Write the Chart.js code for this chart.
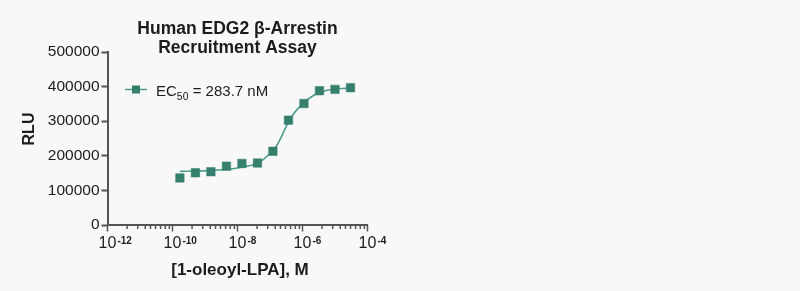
<!DOCTYPE html>
<html>
<head>
<meta charset="utf-8">
<script src="https://cdn.jsdelivr.net/npm/chart.js@4"></script>
<style>
  html, body { margin: 0; padding: 0; background: #f8f8f8; }
  #wrap { width: 800px; height: 291px; }
</style>
</head>
<body>
<div id="wrap"><canvas id="myChart"></canvas></div>
<script>
"use strict"

// measured points (M, RLU)
const concentrations = [1.69e-10, 5.08e-10, 1.52e-9, 4.57e-9, 1.37e-8, 4.12e-8, 1.23e-7, 3.7e-7, 1.11e-6, 3.33e-6, 1e-5, 3e-5];
const rluValues = [136000, 151000, 154000, 170000, 178000, 179000, 213000, 303000, 351000, 388000, 392000, 397000];

// fitted curve
const fitConcentrations = [1.7e-10, 5e-10, 1.6e-9, 5e-9, 1.26e-8, 2.5e-8, 4e-8, 6.3e-8, 1e-7, 1.26e-7, 2e-7, 3.16e-7, 5e-7, 7.9e-7, 1.26e-6, 2e-6, 3.16e-6, 6.3e-6, 1.26e-5, 3e-5];
const fitValues = [155000, 156000, 158000, 161000, 166000, 172000, 178000, 190000, 207000, 215000, 245000, 285000, 318000, 340000, 358000, 372000, 382000, 390000, 394000, 396000];

const yTicks = [0, 100000, 200000, 300000, 400000, 500000];
const xLabelDecades = [-12, -10, -8, -6, -4];
// minor ticks between labelled decades, as multiples of the lower one
const minorTickFactors = [4, 8.5, 14.5, 21, 30, 43, 60, 80];

const titleLines = ["Human EDG2 \u03b2-Arrestin", "Recruitment Assay"];
const xTitle = "[1-oleoyl-LPA], M";
const yTitle = "RLU";
const legendMain = "EC";
const legendSub = "50";
const legendRest = " = 283.7 nM";

const FONT = '"Liberation Sans", Arial, sans-serif';
const TEXT = "#1c1c1c";
const AXIS = "#555555";
const MARK = "#347f6d";
const LINE = "#4f9c8a";

document.addEventListener("DOMContentLoaded", init);

const textPlugin = {
    id: "textPlugin",
    beforeDraw(chart) {
        const ctx = chart.ctx;
        ctx.save();
        ctx.fillStyle = "#f8f8f8";
        ctx.fillRect(0, 0, chart.width, chart.height);
        ctx.restore();
    },
    afterDraw(chart) {
        const ctx = chart.ctx;
        const xs = chart.scales.x;
        const area = chart.chartArea;
        const cx = (area.left + area.right) / 2;
        ctx.save();
        ctx.fillStyle = TEXT;

        // title
        ctx.font = "bold 17.5px " + FONT;
        ctx.textAlign = "center";
        ctx.textBaseline = "alphabetic";
        ctx.fillText(titleLines[0], cx, 34);
        ctx.fillText(titleLines[1], cx, 53);

        // x axis ticks
        ctx.strokeStyle = AXIS;
        ctx.lineWidth = 1.5;
        for (let i = 0; i < xLabelDecades.length; i++) {
            const e = xLabelDecades[i];
            const p = xs.getPixelForValue(Math.pow(10, e));
            ctx.beginPath();
            ctx.moveTo(p, area.bottom);
            ctx.lineTo(p, area.bottom + 6.5);
            ctx.stroke();
            if (i < xLabelDecades.length - 1) {
                for (let m = 0; m < minorTickFactors.length; m++) {
                    const q = xs.getPixelForValue(minorTickFactors[m] * Math.pow(10, e));
                    ctx.beginPath();
                    ctx.moveTo(q, area.bottom);
                    ctx.lineTo(q, area.bottom + 4);
                    ctx.stroke();
                }
            }
        }

        // x tick labels 10^e
        for (let i = 0; i < xLabelDecades.length; i++) {
            const e = xLabelDecades[i];
            const p = xs.getPixelForValue(Math.pow(10, e));
            ctx.font = "16px " + FONT;
            ctx.textAlign = "center";
            ctx.fillText("10", p, 248);
            const w = ctx.measureText("10").width;
            ctx.font = "bold 10px " + FONT;
            ctx.textAlign = "left";
            ctx.fillText(String(e), p + w / 2 + 1, 243.5);
        }

        // axis titles
        ctx.font = "bold 17px " + FONT;
        ctx.textAlign = "center";
        ctx.fillText(xTitle, 240, 275);
        ctx.save();
        ctx.translate(34, 129);
        ctx.rotate(-Math.PI / 2);
        ctx.font = "bold 16px " + FONT;
        ctx.fillText(yTitle, 0, 0);
        ctx.restore();

        // legend
        ctx.strokeStyle = LINE;
        ctx.lineWidth = 1.5;
        ctx.beginPath();
        ctx.moveTo(125, 89.5);
        ctx.lineTo(147, 89.5);
        ctx.stroke();
        ctx.fillStyle = MARK;
        ctx.fillRect(132, 85.5, 8, 8);
        ctx.fillStyle = TEXT;
        ctx.font = "15px " + FONT;
        ctx.textAlign = "left";
        ctx.fillText(legendMain, 156, 95.5);
        let tx = 156 + ctx.measureText(legendMain).width;
        ctx.font = "10.5px " + FONT;
        ctx.fillText(legendSub, tx, 100);
        tx += ctx.measureText(legendSub).width;
        ctx.font = "15px " + FONT;
        ctx.fillText(legendRest, tx, 95.5);

        ctx.restore();
    }
};

function init(){
    const ctx = document.getElementById("myChart").getContext("2d");
    const myChart = new Chart(ctx, {
        type: "scatter",
        data: {
            datasets: [{
                label: "data",
                data: concentrations.map((c, i) => ({x: c, y: rluValues[i]})),
                pointStyle: "rect",
                pointRadius: 6,
                pointBackgroundColor: MARK,
                pointBorderColor: MARK,
                pointBorderWidth: 0.5,
                showLine: false
            }, {
                label: "fit",
                data: fitConcentrations.map((c, i) => ({x: c, y: fitValues[i]})),
                showLine: true,
                pointRadius: 0,
                borderColor: LINE,
                borderWidth: 1.6,
                cubicInterpolationMode: "monotone",
                fill: false
            }]
        },
        options: {
            responsive: true,
            maintainAspectRatio: false,
            animation: false,
            events: [],
            layout: {
                padding: {left: 0, top: 52, right: 432.5, bottom: 0}
            },
            plugins: {
                legend: { display: false },
                title: { display: false },
                tooltip: { enabled: false }
            },
            scales: {
                x: {
                    type: "logarithmic",
                    min: 1e-12,
                    max: 1e-4,
                    afterBuildTicks: s => { s.ticks = xLabelDecades.map(e => ({value: Math.pow(10, e)})); },
                    afterFit: s => { s.height = 66; },
                    ticks: { display: false },
                    grid: { drawOnChartArea: false, drawTicks: false },
                    border: { color: AXIS, width: 2 }
                },
                y: {
                    min: 0,
                    max: 500000,
                    afterBuildTicks: s => { s.ticks = yTicks.map(v => ({value: v})); },
                    afterFit: s => { s.width = 107.5; },
                    ticks: {
                        color: TEXT,
                        font: { family: FONT, size: 15.5 },
                        padding: 2,
                        callback: v => String(v)
                    },
                    grid: { drawOnChartArea: false, tickLength: 6, tickColor: AXIS, tickWidth: 2 },
                    border: { color: AXIS, width: 2 }
                }
            }
        },
        plugins: [textPlugin]
    });
}
</script>
</body>
</html>
